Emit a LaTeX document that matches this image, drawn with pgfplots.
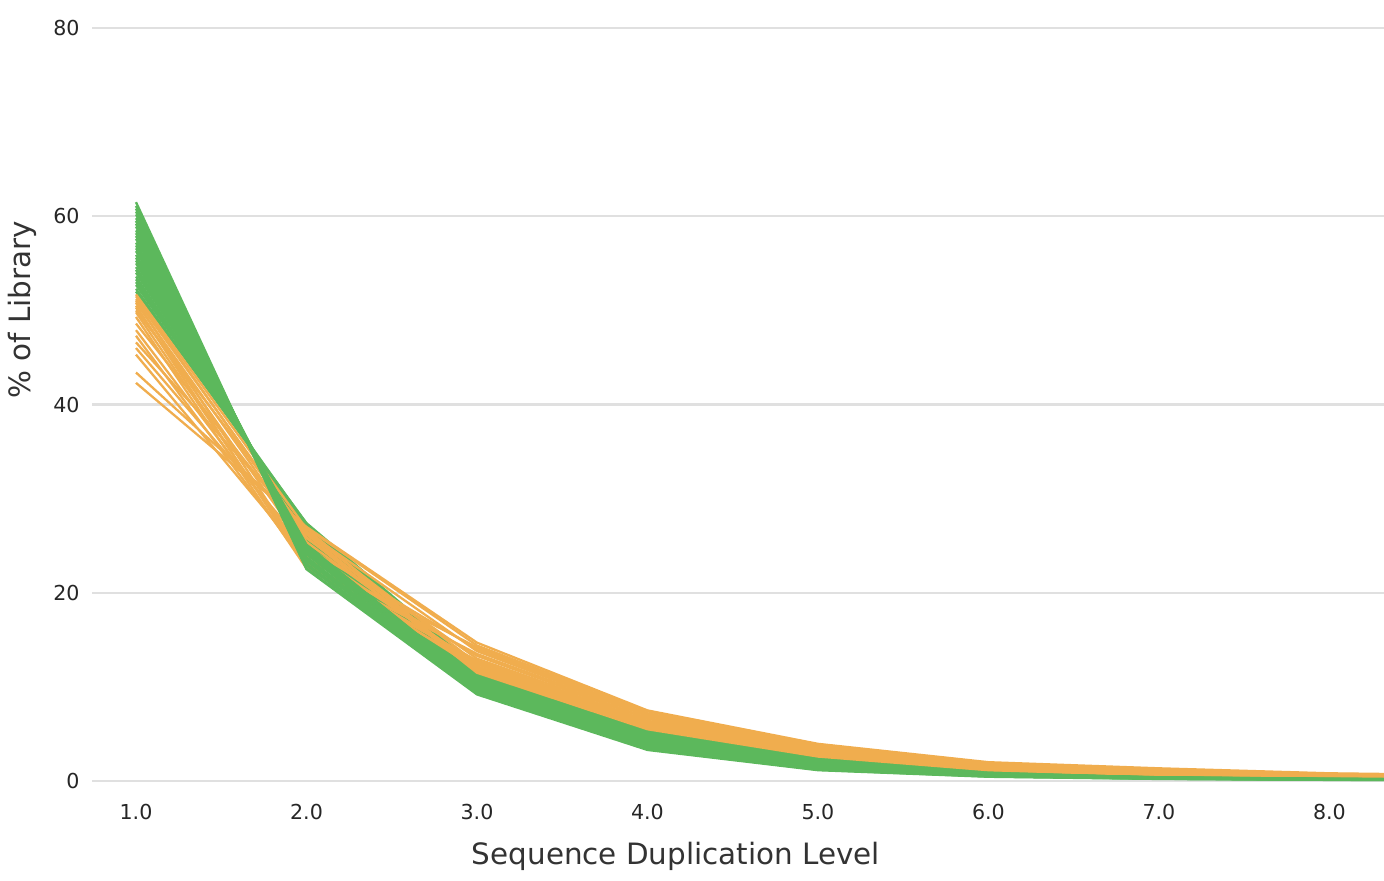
\documentclass[border=0pt]{standalone}
\usepackage{pgfplots}
\pgfplotsset{compat=1.18}
\usepackage{fontspec}
\setmainfont{DejaVu Sans}
\definecolor{mqgreen}{HTML}{5CB85C}
\definecolor{mqorange}{HTML}{F0AD4E}
\definecolor{gridgray}{HTML}{E0E0E0}
\definecolor{txt}{HTML}{333333}
\begin{document}
\begin{tikzpicture}
\begin{axis}[
  at={(0pt,0pt)}, anchor=south west,
  scale only axis, width=646pt, height=376.5pt,
  xmin=0.742, xmax=8.32, ymin=0, ymax=80,
  axis line style={draw=none},
  tick style={draw=none},
  major tick length=0pt,
  xtick={1,2,3,4,5,6,7,8},
  xticklabels={1.0,2.0,3.0,4.0,5.0,6.0,7.0,8.0},
  ytick={0,20,40,60,80},
  /pgf/number format/assume math mode=true,
  ymajorgrids, xmajorgrids=false,
  grid style={draw=gridgray, line width=1.1pt},
  xticklabel style={anchor=center, yshift=-15.5pt, font=\fontsize{10.3}{12}\selectfont, text=black!85},
  yticklabel style={anchor=east, inner sep=0pt, xshift=-6pt, font=\fontsize{10.3}{12}\selectfont, text=black!85},
  xlabel={Sequence Duplication Level},
  ylabel={\% of Library},
  xlabel style={at={(axis description cs:0.452,-0.0996)}, anchor=center, font=\fontsize{14.7}{17}\selectfont, text=txt},
  ylabel style={at={(axis description cs:-0.0542,0.6255)}, anchor=center, rotate=0, font=\fontsize{14.7}{17}\selectfont, text=txt},
  every axis plot/.append style={line width=1.15pt, mark=none},
]
% green group A
\addplot[mqgreen] coordinates {(1,52.0)(2,27.4)(3,12.0)(4,5.5)(5,2.40)(6,1.10)(7,0.60)(8,0.35)(9,0.25)};
\addplot[mqgreen] coordinates {(1,52.3)(2,27.1)(3,11.9)(4,5.4)(5,2.35)(6,1.08)(7,0.58)(8,0.34)(9,0.24)};
\addplot[mqgreen] coordinates {(1,52.7)(2,27.3)(3,11.7)(4,5.4)(5,2.30)(6,1.05)(7,0.57)(8,0.33)(9,0.24)};
\addplot[mqgreen] coordinates {(1,53.0)(2,26.8)(3,11.8)(4,5.3)(5,2.30)(6,1.03)(7,0.56)(8,0.33)(9,0.23)};
\addplot[mqgreen] coordinates {(1,53.3)(2,26.9)(3,11.6)(4,5.2)(5,2.20)(6,1.00)(7,0.54)(8,0.32)(9,0.22)};
\addplot[mqgreen] coordinates {(1,53.6)(2,26.5)(3,11.5)(4,5.3)(5,2.20)(6,0.98)(7,0.53)(8,0.31)(9,0.22)};
\addplot[mqgreen] coordinates {(1,54.0)(2,26.6)(3,11.3)(4,5.1)(5,2.15)(6,0.96)(7,0.52)(8,0.30)(9,0.21)};
\addplot[mqgreen] coordinates {(1,54.3)(2,26.2)(3,11.4)(4,5.0)(5,2.10)(6,0.94)(7,0.50)(8,0.30)(9,0.21)};
\addplot[mqgreen] coordinates {(1,54.6)(2,26.3)(3,11.2)(4,5.0)(5,2.05)(6,0.92)(7,0.49)(8,0.29)(9,0.20)};
\addplot[mqgreen] coordinates {(1,55.0)(2,25.9)(3,11.1)(4,4.9)(5,2.00)(6,0.90)(7,0.48)(8,0.28)(9,0.19)};
\addplot[mqgreen] coordinates {(1,55.3)(2,26.0)(3,10.9)(4,4.8)(5,2.00)(6,0.88)(7,0.47)(8,0.27)(9,0.19)};
\addplot[mqgreen] coordinates {(1,55.6)(2,25.6)(3,11.0)(4,4.8)(5,1.95)(6,0.86)(7,0.45)(8,0.27)(9,0.18)};
\addplot[mqgreen] coordinates {(1,55.9)(2,25.7)(3,10.8)(4,4.7)(5,1.90)(6,0.84)(7,0.44)(8,0.26)(9,0.18)};
\addplot[mqgreen] coordinates {(1,56.3)(2,25.3)(3,10.7)(4,4.6)(5,1.85)(6,0.82)(7,0.43)(8,0.25)(9,0.17)};
\addplot[mqgreen] coordinates {(1,56.6)(2,25.4)(3,10.6)(4,4.6)(5,1.80)(6,0.80)(7,0.42)(8,0.24)(9,0.17)};
% orange
\addplot[mqorange] coordinates {(1,51.7)(2,26.8)(3,11.6)(4,5.6)(5,2.70)(6,1.20)(7,0.64)(8,0.37)(9,0.27)};
\addplot[mqorange] coordinates {(1,51.5)(2,25.9)(3,11.5)(4,5.5)(5,2.60)(6,1.15)(7,0.62)(8,0.36)(9,0.26)};
\addplot[mqorange] coordinates {(1,51.2)(2,26.2)(3,11.8)(4,5.7)(5,2.75)(6,1.22)(7,0.67)(8,0.39)(9,0.28)};
\addplot[mqorange] coordinates {(1,51.0)(2,23.4)(3,11.9)(4,5.8)(5,2.80)(6,1.25)(7,0.70)(8,0.40)(9,0.29)};
\addplot[mqorange] coordinates {(1,50.8)(2,25.4)(3,12.1)(4,5.9)(5,2.85)(6,1.28)(7,0.72)(8,0.42)(9,0.30)};
\addplot[mqorange] coordinates {(1,50.5)(2,22.8)(3,12.2)(4,6.0)(5,2.90)(6,1.30)(7,0.74)(8,0.43)(9,0.31)};
\addplot[mqorange] coordinates {(1,50.3)(2,24.6)(3,12.4)(4,6.1)(5,3.00)(6,1.35)(7,0.78)(8,0.46)(9,0.33)};
\addplot[mqorange] coordinates {(1,50.0)(2,26.4)(3,12.5)(4,6.2)(5,3.05)(6,1.38)(7,0.80)(8,0.47)(9,0.34)};
\addplot[mqorange] coordinates {(1,49.8)(2,23.2)(3,12.7)(4,6.3)(5,3.10)(6,1.40)(7,0.82)(8,0.49)(9,0.35)};
\addplot[mqorange] coordinates {(1,49.3)(2,22.6)(3,12.8)(4,6.4)(5,3.20)(6,1.48)(7,0.87)(8,0.52)(9,0.37)};
\addplot[mqorange] coordinates {(1,48.6)(2,25.8)(3,13.0)(4,6.6)(5,3.30)(6,1.55)(7,0.92)(8,0.55)(9,0.40)};
\addplot[mqorange] coordinates {(1,47.9)(2,24.0)(3,13.3)(4,6.7)(5,3.40)(6,1.60)(7,0.98)(8,0.58)(9,0.42)};
\addplot[mqorange] coordinates {(1,47.3)(2,23.0)(3,13.5)(4,6.9)(5,3.50)(6,1.70)(7,1.04)(8,0.62)(9,0.45)};
\addplot[mqorange] coordinates {(1,46.6)(2,26.5)(3,13.8)(4,7.0)(5,3.60)(6,1.75)(7,1.10)(8,0.66)(9,0.48)};
\addplot[mqorange] coordinates {(1,46.0)(2,24.8)(3,14.0)(4,7.1)(5,3.65)(6,1.78)(7,1.14)(8,0.68)(9,0.50)};
\addplot[mqorange] coordinates {(1,45.3)(2,23.6)(3,14.2)(4,7.2)(5,3.70)(6,1.80)(7,1.18)(8,0.71)(9,0.52)};
\addplot[mqorange] coordinates {(1,43.4)(2,26.9)(3,14.4)(4,7.4)(5,3.85)(6,1.90)(7,1.25)(8,0.76)(9,0.55)};
\addplot[mqorange] coordinates {(1,42.3)(2,27.0)(3,14.7)(4,7.5)(5,3.95)(6,2.00)(7,1.35)(8,0.82)(9,0.60)};
% green group B
\addplot[mqgreen] coordinates {(1,56.9)(2,25.0)(3,10.5)(4,4.5)(5,1.80)(6,0.78)(7,0.40)(8,0.24)(9,0.16)};
\addplot[mqgreen] coordinates {(1,57.2)(2,25.1)(3,10.4)(4,4.4)(5,1.75)(6,0.76)(7,0.39)(8,0.23)(9,0.15)};
\addplot[mqgreen] coordinates {(1,57.6)(2,24.7)(3,10.3)(4,4.4)(5,1.70)(6,0.74)(7,0.38)(8,0.22)(9,0.15)};
\addplot[mqgreen] coordinates {(1,57.9)(2,24.8)(3,10.2)(4,4.3)(5,1.65)(6,0.72)(7,0.37)(8,0.21)(9,0.14)};
\addplot[mqgreen] coordinates {(1,58.2)(2,24.4)(3,10.1)(4,4.2)(5,1.60)(6,0.70)(7,0.36)(8,0.21)(9,0.14)};
\addplot[mqgreen] coordinates {(1,58.5)(2,24.5)(3,10.0)(4,4.1)(5,1.60)(6,0.68)(7,0.34)(8,0.20)(9,0.13)};
\addplot[mqgreen] coordinates {(1,58.9)(2,24.1)(3,9.9)(4,4.1)(5,1.55)(6,0.66)(7,0.33)(8,0.19)(9,0.12)};
\addplot[mqgreen] coordinates {(1,59.2)(2,24.2)(3,9.8)(4,4.0)(5,1.50)(6,0.64)(7,0.32)(8,0.18)(9,0.12)};
\addplot[mqgreen] coordinates {(1,59.5)(2,23.8)(3,9.7)(4,3.9)(5,1.45)(6,0.62)(7,0.31)(8,0.18)(9,0.11)};
\addplot[mqgreen] coordinates {(1,59.8)(2,23.6)(3,9.6)(4,3.8)(5,1.40)(6,0.60)(7,0.29)(8,0.17)(9,0.11)};
\addplot[mqgreen] coordinates {(1,60.2)(2,23.4)(3,9.5)(4,3.7)(5,1.35)(6,0.57)(7,0.28)(8,0.16)(9,0.10)};
\addplot[mqgreen] coordinates {(1,60.5)(2,23.1)(3,9.4)(4,3.6)(5,1.30)(6,0.54)(7,0.27)(8,0.15)(9,0.09)};
\addplot[mqgreen] coordinates {(1,60.8)(2,22.9)(3,9.3)(4,3.5)(5,1.25)(6,0.51)(7,0.25)(8,0.14)(9,0.09)};
\addplot[mqgreen] coordinates {(1,61.1)(2,22.6)(3,9.3)(4,3.4)(5,1.20)(6,0.48)(7,0.24)(8,0.13)(9,0.08)};
\addplot[mqgreen] coordinates {(1,61.5)(2,22.5)(3,9.2)(4,3.3)(5,1.15)(6,0.45)(7,0.22)(8,0.12)(9,0.07)};
\end{axis}
\pgfresetboundingbox
\path (-46pt,-49.5pt) rectangle (646pt,390.5pt);
\end{tikzpicture}
\end{document}
